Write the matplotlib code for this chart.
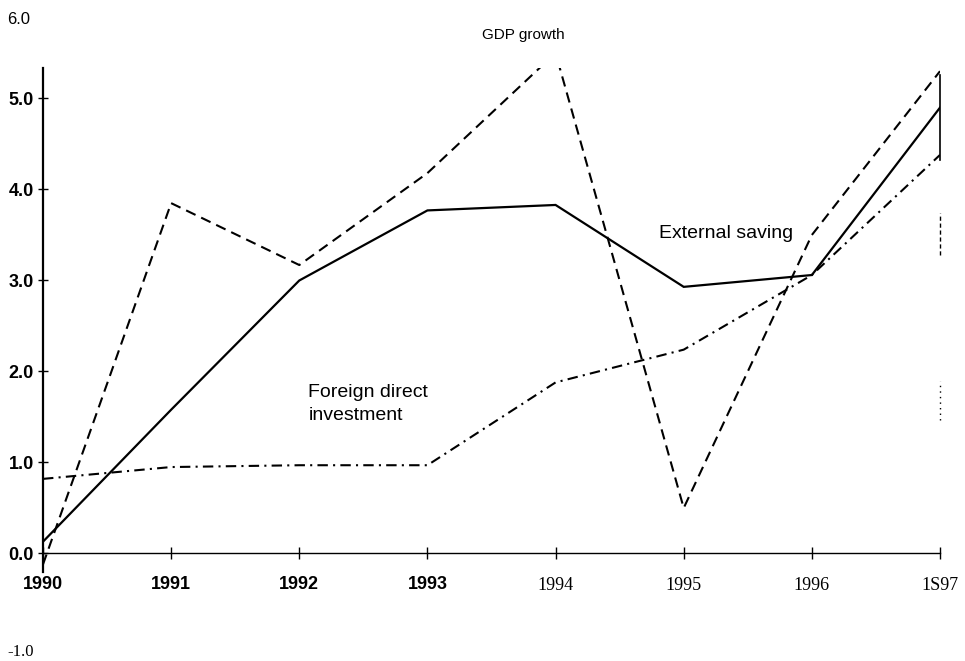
import matplotlib
matplotlib.use("Agg")
import matplotlib.pyplot as plt

years = [1990, 1991, 1992, 1993, 1994, 1995, 1996, 1997]
year_labels = ["1990", "1991", "1992", "1993", "1994", "1995", "1996", "1S97"]
external_saving = [0.13, 1.58, 3.00, 3.77, 3.83, 2.93, 3.06, 4.90]
gdp_growth = [-0.12, 3.85, 3.17, 4.18, 5.50, 0.50, 3.50, 5.30]
fdi = [0.82, 0.95, 0.97, 0.97, 1.88, 2.24, 3.06, 4.38]
yticks = [0.0, 1.0, 2.0, 3.0, 4.0, 5.0]

W, H = 965, 661
fig = plt.figure(figsize=(W / 100, H / 100), dpi=100)
left_px, right_px = 43, 940
top_px, bot_px = 68, 571.7
ax = fig.add_axes([left_px / W, 1 - bot_px / H, (right_px - left_px) / W, (bot_px - top_px) / H])
ax.set_xlim(1990, 1997)
ax.set_ylim(-0.2, 5.335)

sans = ['Liberation Sans', 'DejaVu Sans']
serif = ['Liberation Serif', 'DejaVu Serif']

ax.plot(years, external_saving, color='black', lw=1.6, solid_joinstyle='miter')
ax.plot(years, gdp_growth, color='black', lw=1.5, linestyle=(0, (5, 3)))
ax.plot(years, fdi, color='black', lw=1.5, linestyle=(0, (5, 2.5, 1, 2.5)))

# spines
for s in ['top', 'right']:
    ax.spines[s].set_visible(False)
ax.spines['bottom'].set_position(('data', 0))
ax.spines['left'].set_linewidth(1.6)
ax.spines['bottom'].set_linewidth(1.0)

# partial right edge marks at 1997
ax.plot([1997, 1997], [4.32, 5.26], color='black', lw=1.2, clip_on=False)
ax.plot([1997, 1997], [3.28, 3.74], color='black', lw=1.0, linestyle=(0, (3, 2)), clip_on=False)
ax.plot([1997, 1997], [1.47, 1.90], color='black', lw=1.0, linestyle=(0, (1, 3)), clip_on=False)

ax.set_xticks(years)
ax.set_xticklabels(year_labels)
ax.set_yticks(yticks)
ax.set_yticklabels([f"{v:.1f}" for v in yticks])
ax.tick_params(axis='x', direction='inout', length=9, width=1.0, pad=12)
ax.tick_params(axis='y', direction='inout', length=7, width=1.0, pad=3)

for i, lab in enumerate(ax.get_xticklabels()):
    if i < 4:
        lab.set_fontfamily(sans)
        lab.set_fontsize(13)
        lab.set_fontweight('bold')
    else:
        lab.set_fontfamily(serif)
        lab.set_fontsize(13)
        lab.set_y(-0.006)
for lab in ax.get_yticklabels():
    lab.set_fontfamily(sans)
    lab.set_fontsize(13)
    lab.set_fontweight('bold')

# annotations
fig.text(7 / W, 1 - 19 / H, "6.0", family=sans, fontsize=12, va='center', ha='left')
fig.text(7 / W, 1 - 652 / H, "-1.0", family=serif, fontsize=12, va='center', ha='left')
fig.text(482 / W, 1 - 35 / H, "GDP growth", family=sans, fontsize=11, va='center', ha='left')
ax.text(1994.81, 3.52, "External saving", family=sans, fontsize=14, ha='left', va='center')
ax.text(1992.07, 1.64, "Foreign direct\ninvestment", family=sans, fontsize=14, ha='left', va='center', linespacing=1.45)

fig.savefig("out.png", dpi=100)
